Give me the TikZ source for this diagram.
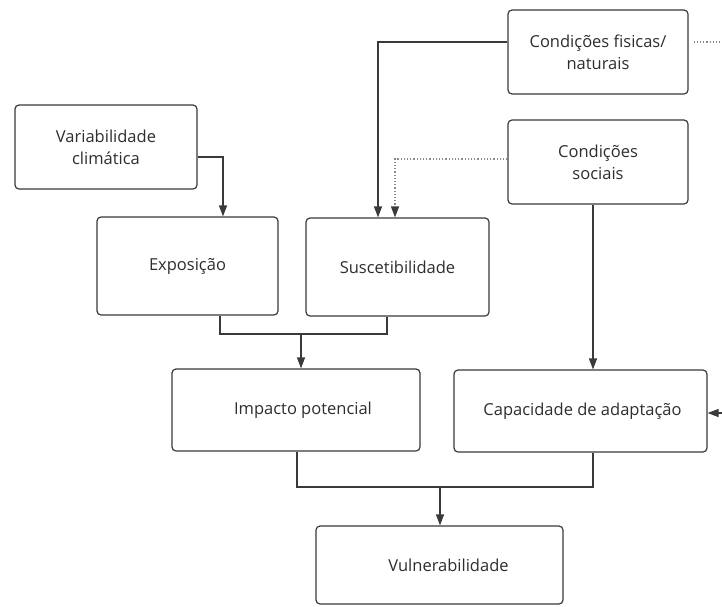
\documentclass[tikz,border=0pt]{standalone}
\usepackage{fontspec}
\setmainfont{Open Sans}
\usetikzlibrary{arrows.meta}
\definecolor{ink}{HTML}{3A3A3A}
\definecolor{txt}{HTML}{2E2E2E}
\definecolor{dots}{HTML}{8A8A8A}
\tikzset{
  box/.style={draw=ink, line width=1.2pt, rounded corners=4pt, align=center, text=txt, font=\fontsize{16.5}{22}\selectfont, inner sep=0pt},
  conn/.style={draw=ink, line width=1.2pt},
  arr/.style={conn, -{Triangle[length=11pt,width=8pt]}},
  dotarr/.style={draw=dots, line width=1.2pt, dotted, -{Triangle[length=11pt,width=8pt,color=ink]}},
  dotline/.style={draw=dots, line width=1.2pt, dotted}
}
\begin{document}
\begin{tikzpicture}[x=1pt,y=-1pt]
\useasboundingbox[fill=white] (0,0) rectangle (722,606);
\node[box, minimum width=180pt, minimum height=84pt] (fis) at (598,52) {Condições fisicas/\\naturais};
\node[box, minimum width=180pt, minimum height=84pt] (soc) at (598,162) {Condições\\sociais};
\node[box, minimum width=182pt, minimum height=84pt] (var) at (106,147) {Variabilidade\\climática};
\node[box, minimum width=181pt, minimum height=98pt] (exp) at (187.5,266) {Exposição};
\node[box, minimum width=183pt, minimum height=98pt] (sus) at (397.5,267) {Suscetibilidade};
\node[box, minimum width=248pt, minimum height=82pt] (imp) at (296,410) {\hspace*{14pt}Impacto potencial};
\node[box, minimum width=253pt, minimum height=82pt] (cap) at (580.5,411) {\hspace*{4pt}Capacidade de adaptação};
\node[box, minimum width=247pt, minimum height=78pt] (vul) at (439.5,565) {\hspace*{18pt}Vulnerabilidade};
\coordinate (fisout) at (722,42);
\coordinate (capin) at (722,413);
\coordinate (j1) at (301,334);
\coordinate (j2) at (440,487);
% variabilidade -> exposicao
\draw[arr] ([yshift=-10pt]var.east) -| ([xshift=35.5pt]exp.north);
% fisicas -> suscetibilidade
\draw[arr] ([yshift=10pt]fis.west) -| ([xshift=-19.5pt]sus.north);
% sociais -> suscetibilidade (dotted)
\draw[dotarr] ([yshift=3pt]soc.west) -| ([xshift=-2.5pt]sus.north);
% sociais -> capacidade
\draw[arr] ([xshift=-5pt]soc.south) -- ([xshift=-5pt]soc.south |- cap.north);
% exposicao + suscetibilidade -> impacto
\draw[conn] ([xshift=32.5pt]exp.south) |- (j1) -| ([xshift=-10.5pt]sus.south);
\draw[arr] (j1) -- (j1 |- imp.north);
% impacto + capacidade -> vulnerabilidade
\draw[conn] ([xshift=1pt]imp.south) |- (j2) -| ([xshift=12.5pt]cap.south);
\draw[arr] (j2) -- (j2 |- vul.north);
% outside connections
\draw[dotline] ([xshift=5pt,yshift=10pt]fis.east) -- (fisout);
\draw[arr] (capin) -- ([yshift=-2pt]cap.east);
\end{tikzpicture}
\end{document}
